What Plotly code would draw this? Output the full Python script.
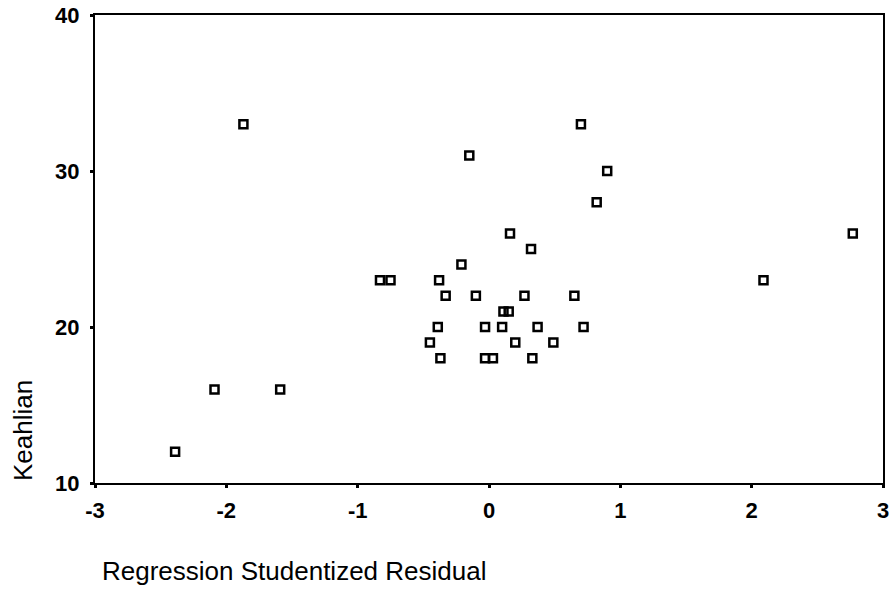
import plotly.graph_objects as go

residual = [-1.87, 0.70, -0.15, 0.90, 0.82, 0.16, 0.32, -0.21, -0.83, -0.75, -0.38,
            -0.33, -0.10, 0.27, 0.65, 0.11, 0.15, -0.39, -0.03, 0.10, 0.37, 0.72,
            -0.45, 0.20, 0.49, -0.37, -0.03, 0.03, 0.33, -2.09, -1.59, -2.39, 2.77, 2.09]
keahlian = [33, 33, 31, 30, 28, 26, 25, 24, 23, 23, 23,
            22, 22, 22, 22, 21, 21, 20, 20, 20, 20, 20,
            19, 19, 19, 18, 18, 18, 18, 16, 16, 12, 26, 23]

x_ticks = [-3, -2, -1, 0, 1, 2, 3]
y_ticks = [10, 20, 30, 40]

fig = go.Figure()
fig.add_trace(go.Scatter(
    x=residual, y=keahlian, mode="markers",
    marker=dict(symbol="square-open", size=8, color="black", line=dict(width=2.5, color="black")),
    showlegend=False, cliponaxis=False, hoverinfo="skip",
))

font_tick = dict(family="Liberation Sans, Arial", size=22, color="black")
fig.update_layout(
    width=889, height=593,
    margin=dict(l=95, r=6, t=15, b=110, autoexpand=False),
    plot_bgcolor="white", paper_bgcolor="white",
    xaxis=dict(range=[-3.0, 3.0], tickvals=x_ticks, ticktext=[f"<b>{v}</b>" for v in x_ticks],
               showgrid=False, zeroline=False, showline=True, linecolor="black", linewidth=2,
               mirror=True, ticks="outside", ticklen=3, tickwidth=3, tickcolor="black",
               tickfont=font_tick, ticklabelstandoff=4, ticklabeloverflow="allow",
               automargin=False),
    yaxis=dict(range=[10, 40], tickvals=y_ticks, ticktext=[f"<b>{v}</b>" for v in y_ticks],
               showgrid=False, zeroline=False, showline=True, linecolor="black", linewidth=2,
               mirror=True, ticks="outside", ticklen=3, tickwidth=3, tickcolor="black",
               tickfont=font_tick, ticklabelstandoff=6, ticklabeloverflow="allow",
               automargin=False),
    annotations=[
        dict(text="Keahlian", xref="paper", yref="paper", x=-0.0914, y=0.113,
             xanchor="center", yanchor="middle", textangle=-90, showarrow=False,
             font=dict(family="Liberation Sans, Arial", size=26, color="black")),
        dict(text="Regression Studentized Residual", xref="paper", yref="paper",
             x=0.006, y=-0.188, xanchor="left", yanchor="middle", showarrow=False,
             font=dict(family="Liberation Sans, Arial", size=26, color="black")),
    ],
)
fig.write_html("out.html", config={"displayModeBar": False},
               post_script="document.body.style.margin='0';document.body.style.overflow='hidden';")
